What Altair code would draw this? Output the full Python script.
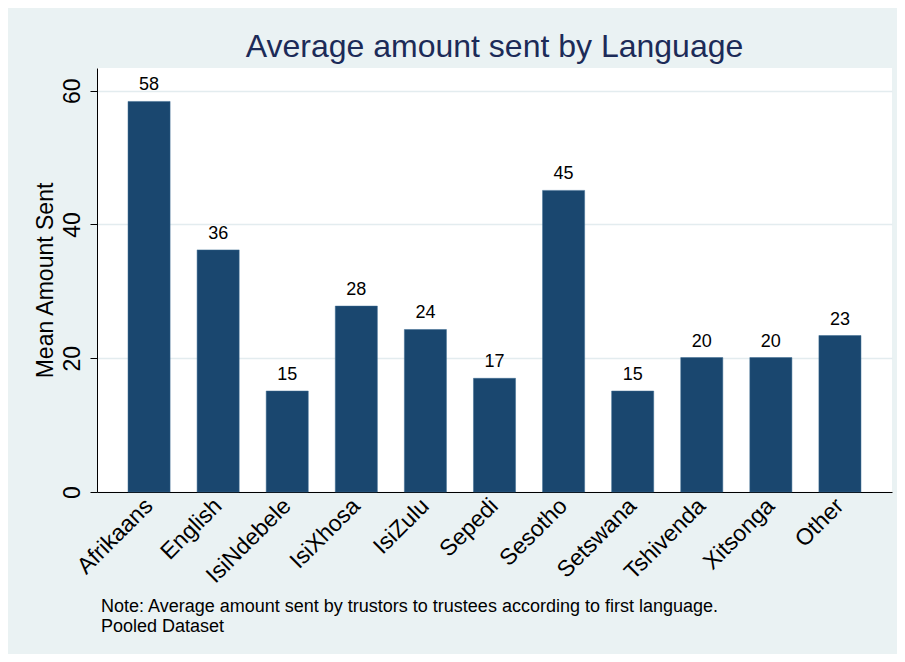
import altair as alt
import pandas as pd

languages = ["Afrikaans", "English", "IsiNdebele", "IsiXhosa", "IsiZulu", "Sepedi",
             "Sesotho", "Setswana", "Tshivenda", "Xitsonga", "Other"]
mean_sent = [58.4, 36.2, 15.1, 27.8, 24.3, 17.0, 45.1, 15.1, 20.1, 20.1, 23.4]
y_ticks = [0, 20, 40, 60]
note_lines = "Note: Average amount sent by trustors to trustees according to first language.\nPooled Dataset"

FONT = "Liberation Sans, Arial, sans-serif"
BG = "#eaf2f3"
BAR = "#1a476f"

df = pd.DataFrame({"lang": languages, "val": mean_sent})

x_enc = alt.X("lang:N", sort=None, title=None,
              scale=alt.Scale(paddingInner=0.391, paddingOuter=0.449),
              axis=alt.Axis(labelAngle=-45, labelAlign="right", labelBaseline="middle",
                            labelPadding=10, ticks=False, labelFontSize=23,
                            labelColor="black", domainColor="black", domainWidth=1,
                            grid=False))
y_enc = alt.Y("val:Q", title="Mean Amount Sent",
              scale=alt.Scale(domain=[0, 63.4], nice=False, zero=True),
              axis=alt.Axis(values=y_ticks, labelAngle=-90, labelAlign="center",
                            labelBaseline="alphabetic", labelPadding=11, tickSize=7,
                            tickColor="black", labelFontSize=23, labelColor="black",
                            domainColor="black", domainWidth=1, grid=True,
                            gridColor="#e3ecef", gridWidth=1.5,
                            titleFontSize=23, titleFontWeight="normal", titleColor="black",
                            titleAngle=-90, titleX=-45, titleY=212,
                            titleAlign="center", titleBaseline="alphabetic"))

bars = alt.Chart(df).mark_bar(color=BAR, stroke="#3a6a90", strokeWidth=0.5).encode(x=x_enc, y=y_enc)
labels = alt.Chart(df).mark_text(baseline="alphabetic", dy=-11, fontSize=18, color="black",
                                 font=FONT).encode(
    x=alt.X("lang:N", sort=None), y="val:Q", text=alt.Text("val:Q", format=".0f"))
note = alt.Chart(pd.DataFrame({"note": [note_lines]})).mark_text(
    align="left", baseline="alphabetic", lineBreak="\n", lineHeight=20, fontSize=18,
    color="black", font=FONT).encode(x=alt.value(4), y=alt.value(544), text="note:N")

chart = alt.layer(bars, labels, note).properties(
    width=795, height=424,
    title=alt.TitleParams("Average amount sent by Language", fontSize=32, font=FONT,
                          fontWeight="normal", color="#1c2b58", anchor="middle",
                          baseline="alphabetic", offset=11, dy=32),
    autosize=alt.AutoSizeParams(type="none"),
    padding={"left": 89, "top": 60, "right": 5, "bottom": 162},
    background=BG,
).configure_view(fill="white", stroke=None).configure_axis(labelFont=FONT, titleFont=FONT)

chart.save("out.html", embed_options={"renderer": "svg", "actions": False})
